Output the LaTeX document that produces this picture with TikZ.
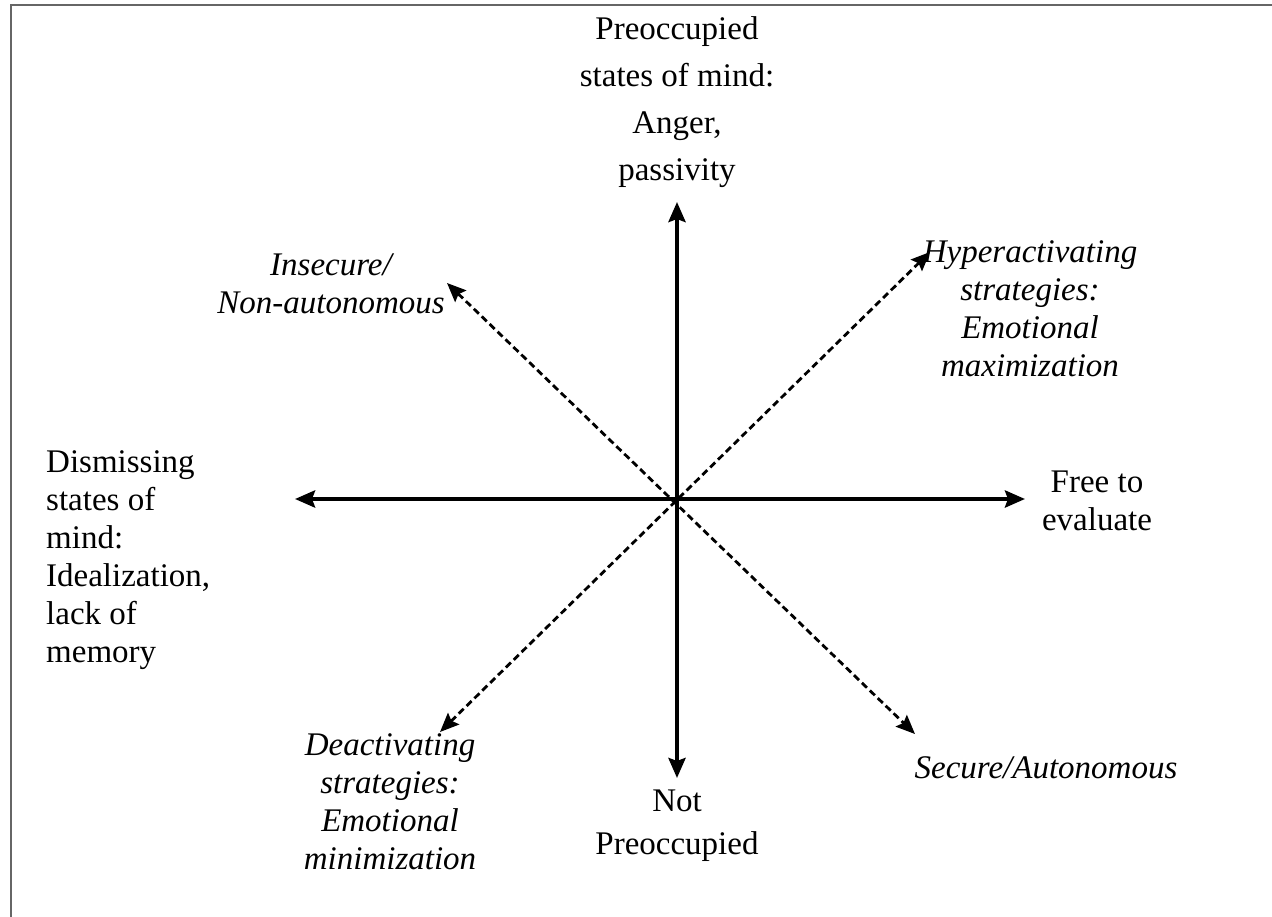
\documentclass[tikz,border=0pt]{standalone}
\usepackage{fontspec}
\setmainfont{Liberation Serif}
\usetikzlibrary{arrows.meta}
\begin{document}
\begin{tikzpicture}[x=1bp,y=-1bp,
  lbl/.style={font=\fontsize{33bp}{38bp}\selectfont, align=center, inner sep=0pt},
  ilbl/.style={lbl, font=\fontsize{33bp}{38bp}\selectfont\itshape},
  axis/.style={line width=4bp, {Stealth[length=20bp,width=17bp,inset=3bp]}-{Stealth[length=20bp,width=17bp,inset=3bp]}},
  diag/.style={line width=2.8bp, dash pattern=on 7bp off 4bp, {Stealth[length=19bp,width=16bp,inset=3bp]}-{Stealth[length=19bp,width=16bp,inset=3bp]}}
]
\useasboundingbox (0,0) rectangle (1272,917);
% frame edges
\draw[line width=2.5bp, color=black!60] (11,917) -- (11,5) -- (1272,5);

% axis end points
\coordinate (top) at (677,202);
\coordinate (bot) at (677,778);
\coordinate (lft) at (295,499);
\coordinate (rgt) at (1025,499);
\coordinate (ne) at (930,252);
\coordinate (sw) at (440,732);
\coordinate (nw) at (447,283);
\coordinate (se) at (915,734);

\draw[axis] (bot) -- (top);
\draw[axis] (lft) -- (rgt);
\draw[diag] (sw) -- (ne);
\draw[diag] (nw) -- (se);

% labels
\node[lbl, anchor=south, font=\fontsize{33bp}{47bp}\selectfont] (pre) at (677,188) {Preoccupied\\states of mind:\\Anger,\\passivity};
\node[lbl, font=\fontsize{33bp}{43bp}\selectfont] (notpre) at (677,826) {Not\\Preoccupied};
\node[lbl] (free) at (1097,501) {Free to\\evaluate};
\node[lbl, align=left, anchor=west] (dis) at (46,560) {Dismissing\\states of\\mind:\\Idealization,\\lack of\\memory};
\node[ilbl] (insec) at (331,284) {Insecure/\\Non-autonomous};
\node[ilbl] (hyper) at (1030,309) {Hyperactivating\\strategies:\\Emotional\\maximization};
\node[ilbl] (sec) at (1046,768) {Secure/Autonomous};
\node[ilbl] (deact) at (390,802) {Deactivating\\strategies:\\Emotional\\minimization};
\end{tikzpicture}
\end{document}
